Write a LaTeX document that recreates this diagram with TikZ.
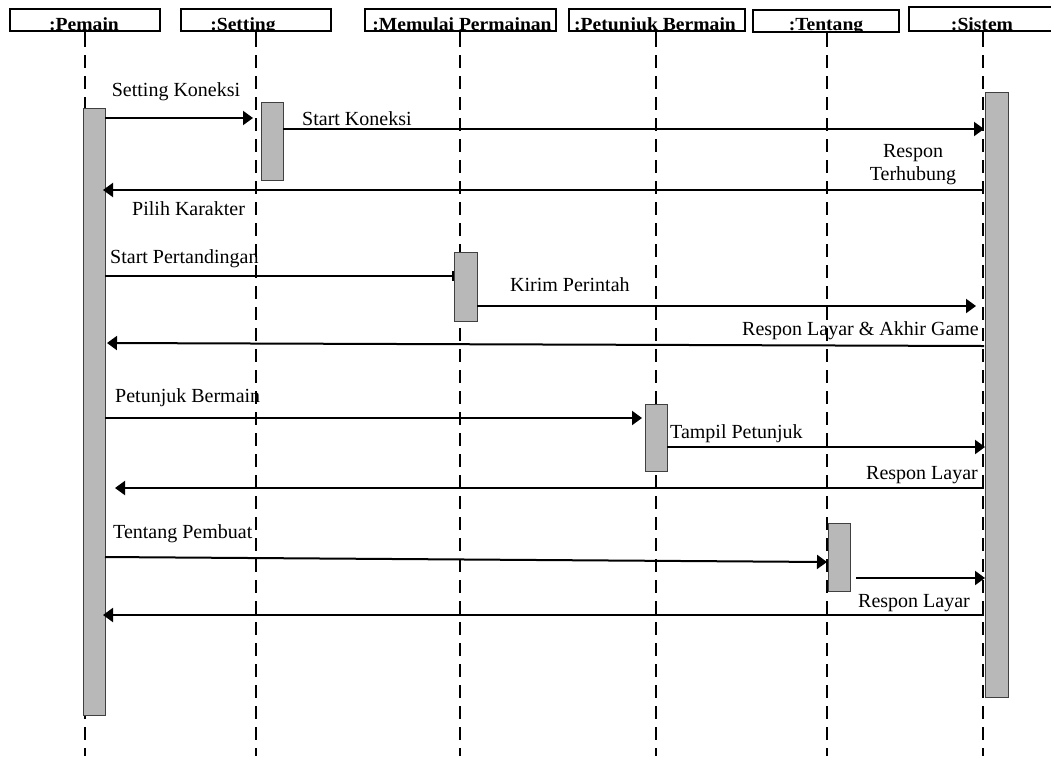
\documentclass[tikz,border=0pt]{standalone}
\usepackage{fontspec}
\setmainfont{Liberation Serif}
\usetikzlibrary{arrows.meta}
\begin{document}
\begin{tikzpicture}[x=1pt,y=-1pt,
  lbl/.style={font=\fontsize{20}{24}\selectfont, inner sep=0pt, anchor=base west},
  hdr/.style={font=\bfseries\fontsize{18.5}{22}\selectfont, inner sep=0pt, anchor=base, xscale=1.06},
  headbox/.style={draw=black, line width=1.3pt, inner sep=0pt, minimum height=22pt},
  life/.style={line width=1.8pt, dash pattern=on 13pt off 8pt},
  stub/.style={line width=1.8pt},
  actbar/.style={draw=black!75, fill=black!28, line width=1pt, minimum width=22pt,
                 inner sep=0pt, anchor=north west},
  msg/.style={line width=2pt, -{Triangle[length=10pt,width=14pt]}},
  tick/.style={line width=2pt, -{Bar[width=10pt,line width=2pt]}},
  plain/.style={line width=2pt}]
\useasboundingbox (0,0) rectangle (1051,756);

% ---------- object headers ----------
\node[headbox, minimum width=150pt] (hPemain)   at (85,20)  {};
\node[headbox, minimum width=150pt] (hSetting)  at (256,20) {};
\node[headbox, minimum width=191pt] (hMulai)    at (460.5,20) {};
\node[headbox, minimum width=176pt] (hPetunjuk) at (657,20) {};
\node[headbox, minimum width=146pt] (hTentang)  at (826,21) {};
\node[headbox, minimum width=148pt, minimum height=24pt] (hSistem) at (983,19) {};

\begin{scope}
  \clip (hPemain.south west) rectangle (hPemain.north east);
  \node[hdr] (tPemain) at (84,30) {:Pemain};
\end{scope}
\begin{scope}
  \clip (hSetting.south west) rectangle (hSetting.north east);
  \node[hdr] (tSetting) at (243,30) {:Setting};
\end{scope}
\begin{scope}
  \clip (hMulai.south west) rectangle (hMulai.north east);
  \node[hdr] (tMulai) at (462,30) {:Memulai Permainan};
\end{scope}
\begin{scope}
  \clip (hPetunjuk.south west) rectangle (hPetunjuk.north east);
  \node[hdr] (tPetunjuk) at (655,30) {:Petunjuk Bermain};
\end{scope}
\begin{scope}
  \clip (hTentang.south west) rectangle (hTentang.north east);
  \node[hdr] (tTentang) at (826,30) {:Tentang};
\end{scope}
\begin{scope}
  \clip (hSistem.south west) rectangle (hSistem.north east);
  \node[hdr] (tSistem) at (982,30) {:Sistem};
\end{scope}

% ---------- lifelines ----------
\foreach \h/\x in {hPemain/85, hSetting/256, hMulai/460, hPetunjuk/656, hTentang/827, hSistem/983} {
  \draw[stub] (\h.south -| \x,0) -- (\x,47);
  \draw[life] (\x,55) -- (\x,756);
}

% ---------- activation bars ----------
\node[actbar, minimum height=607pt] (bPemain)   at (83,108)  {};
\node[actbar, minimum height=78pt]  (bSetting)  at (261,102) {};
\node[actbar, minimum height=69pt, minimum width=23pt] (bMulai) at (454,252) {};
\node[actbar, minimum height=67pt]  (bPetunjuk) at (645,404) {};
\node[actbar, minimum height=68pt]  (bTentang)  at (828,523) {};
\node[actbar, minimum height=605pt, minimum width=23pt] (bSistem) at (985,92) {};

% ---------- message end points ----------
\coordinate (m1a) at (105,118);  \coordinate (m1b) at (253,118);
\coordinate (m2a) at (283,129);  \coordinate (m2b) at (984,129);
\coordinate (m3a) at (984,190);  \coordinate (m3b) at (103,190);
\coordinate (m4a) at (105,276);  \coordinate (m4b) at (454,276);
\coordinate (m5a) at (477,306);  \coordinate (m5b) at (976,306);
\coordinate (m6a) at (984,346);  \coordinate (m6b) at (107,343);
\coordinate (m7a) at (105,418);  \coordinate (m7b) at (642,418);
\coordinate (m8a) at (667,447);  \coordinate (m8b) at (985,447);
\coordinate (m9a) at (984,488);  \coordinate (m9b) at (115,488);
\coordinate (m10a) at (105,557); \coordinate (m10b) at (827,562);
\coordinate (m11a) at (856,578); \coordinate (m11b) at (985,578);
\coordinate (m12a) at (984,615); \coordinate (m12b) at (103,615);

% ---------- messages ----------
\draw[msg]  (m1a) -- (m1b);
\draw[msg]  (m2a) -- (m2b);
\draw[msg]  (m3a) -- (m3b);
\draw[tick] (m4a) -- (m4b);
\draw[msg]  (m5a) -- (m5b);
\draw[msg]  (m6a) -- (m6b);
\draw[msg]  (m7a) -- (m7b);
\draw[msg]  (m8a) -- (m8b);
\draw[msg]  (m9a) -- (m9b);
\draw[msg]  (m10a) -- (m10b);
\draw[msg]  (m11a) -- (m11b);
\draw[msg]  (m12a) -- (m12b);

% ---------- labels ----------
\node[lbl, anchor=base] (l1) at (176,96) {Setting Koneksi};
\node[lbl] (l2) at (302,125) {Start Koneksi};
\node[lbl, anchor=base] (l3a) at (913,157) {Respon};
\node[lbl, anchor=base] (l3b) at (913,180) {Terhubung};
\node[lbl] (l4) at (132,215) {Pilih Karakter};
\node[lbl] (l5) at (110,263) {Start Pertandingan};
\node[lbl] (l6) at (510,291) {Kirim Perintah};
\node[lbl, anchor=base east] (l7) at (979,335) {Respon Layar \& Akhir Game};
\node[lbl] (l8) at (115,402) {Petunjuk Bermain};
\node[lbl] (l9) at (670,438) {Tampil Petunjuk};
\node[lbl, anchor=base east] (l10) at (978,479) {Respon Layar};
\node[lbl] (l11) at (113,538) {Tentang Pembuat};
\node[lbl] (l12) at (858,607) {Respon Layar};
\end{tikzpicture}
\end{document}
